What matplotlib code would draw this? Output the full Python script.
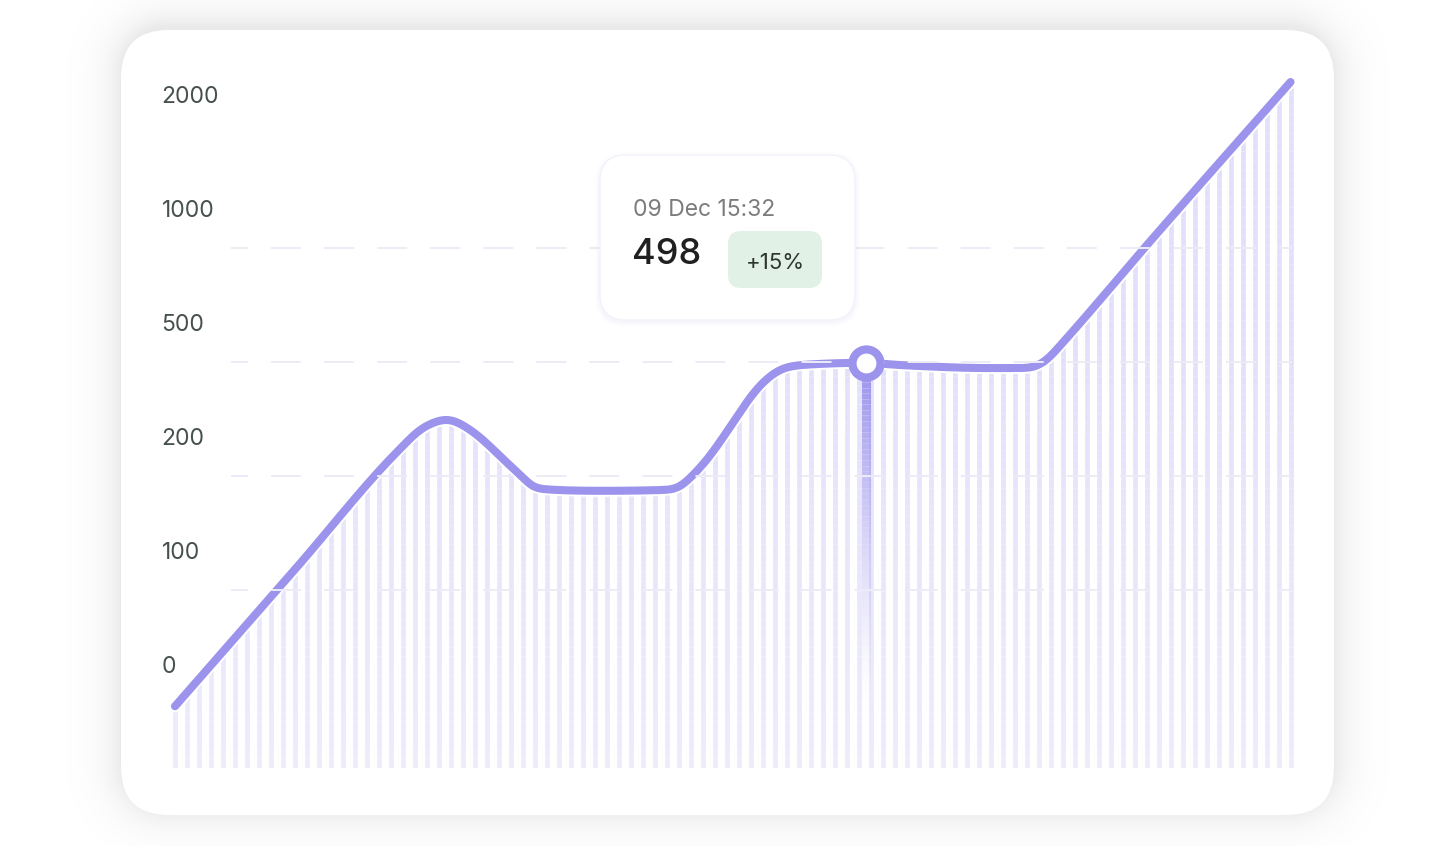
import numpy as np
import matplotlib
matplotlib.use('Agg')
import matplotlib.pyplot as plt
from matplotlib.patches import FancyBboxPatch
from matplotlib.collections import LineCollection

plt.rcParams['font.family'] = ['Inter', 'DejaVu Sans']
plt.rcParams['lines.scale_dashes'] = False

# ---------------- data ----------------
tick_values = [0, 100, 200, 500, 1000, 2000]
tick_labels = ['0', '100', '200', '500', '1000', '2000']
grid_values = [100, 200, 500, 1000]

series_x = [0, 10, 18.75, 20.8, 22.7, 24.6, 26.2, 27.1, 28.0, 28.75, 30, 35.4, 41.5, 43.75,
            46.5, 48.2, 49.3, 50.7, 52.1, 57.6, 60.4, 67.9, 71.25, 72.5, 73.75,
            81.25, 93]
series_y = [-2, 118, 271, 330, 350, 322, 280, 252, 225, 205, 189, 187, 188, 221,
            339, 418, 455, 484, 492, 498, 492, 484, 484, 500, 570,
            1053, 2456]
n_stripes = 94
marker_x = 57.6
marker_value = 498
tooltip_time = '09 Dec 15:32'
tooltip_value = '498'
tooltip_change = '+15%'

# ---------------- setup ----------------
W, H, DPI = 1455, 846, 100
PURPLE = '#9b93ec'

TV = np.array(tick_values, float)
POS = np.arange(len(TV), dtype=float)


def fwd(v):
    v = np.asarray(v, float)
    p = np.interp(v, TV, POS)
    p = np.where(v < TV[0], (v - TV[0]) / (TV[1] - TV[0]), p)
    p = np.where(v > TV[-1], POS[-1] + (v - TV[-1]) / (TV[-1] - TV[-2]), p)
    return p


def inv(p):
    p = np.asarray(p, float)
    v = np.interp(p, POS, TV)
    v = np.where(p < 0, p * (TV[1] - TV[0]), v)
    v = np.where(p > POS[-1], TV[-1] + (p - POS[-1]) * (TV[-1] - TV[-2]), v)
    return v


def pchip(x, y, xs):
    x = np.asarray(x, float); y = np.asarray(y, float); xs = np.asarray(xs, float)
    h = np.diff(x); d = np.diff(y) / h
    n = len(x)
    m = np.zeros(n)
    for i in range(1, n - 1):
        if d[i - 1] * d[i] <= 0:
            m[i] = 0
        else:
            w1 = 2 * h[i] + h[i - 1]; w2 = h[i] + 2 * h[i - 1]
            m[i] = (w1 + w2) / (w1 / d[i - 1] + w2 / d[i])
    m[0] = d[0]; m[-1] = d[-1]
    idx = np.clip(np.searchsorted(x, xs) - 1, 0, n - 2)
    t = (xs - x[idx]) / h[idx]
    h00 = 2 * t**3 - 3 * t**2 + 1
    h10 = t**3 - 2 * t**2 + t
    h01 = -2 * t**3 + 3 * t**2
    h11 = t**3 - t**2
    return h00 * y[idx] + h10 * h[idx] * m[idx] + h01 * y[idx + 1] + h11 * h[idx] * m[idx + 1]


fig = plt.figure(figsize=(W / DPI, H / DPI), dpi=DPI)
fig.patch.set_facecolor('white')

# background: card shadow + card
bg = fig.add_axes([0, 0, 1, 1], zorder=0)
yy, xx = np.mgrid[0:H, 0:W] + 0.5
x0c, x1c, y0c, y1c, rc = 121, 1334, 30, 815, 48
cx, cy = (x0c + x1c) / 2, (y0c + y1c) / 2
hx, hy = (x1c - x0c) / 2, (y1c - y0c) / 2
qx = np.abs(xx - cx) - (hx - rc)
qy = np.abs(yy - cy + 4) - (hy - rc)
dist = np.hypot(np.maximum(qx, 0), np.maximum(qy, 0)) + np.minimum(np.maximum(qx, qy), 0) - rc
alpha = np.where(dist > -10, 0.085 * np.exp(-np.maximum(dist, 0) / 18.0), 0)
img = np.zeros((H, W, 4)); img[..., 3] = alpha
bg.imshow(img, extent=(0, W, H, 0), interpolation='bilinear')
bg.add_patch(FancyBboxPatch((x0c, y0c), x1c - x0c, y1c - y0c,
                            boxstyle=f'round,pad=0,rounding_size={rc}',
                            fc='white', ec='none'))
bg.set_xlim(0, W); bg.set_ylim(H, 0); bg.axis('off')

# main chart axes
PX0, DX = 175.0, 11.995          # pixel of stripe 0 and spacing
Y0, DY = 704.0, 114.0            # pixel of value 0 and step per tick
ax_left_px, ax_right_px = PX0 - DX, PX0 + 94 * DX
ax_top_px, ax_bot_px = 30.0, 768.0
ax = fig.add_axes([ax_left_px / W, (H - ax_bot_px) / H,
                   (ax_right_px - ax_left_px) / W, (ax_bot_px - ax_top_px) / H], zorder=1)
ax.patch.set_alpha(0)
ax.set_yscale('function', functions=(fwd, inv))
p_bot = (Y0 - ax_bot_px) / DY
p_top = (Y0 - ax_top_px) / DY
ax.set_xlim(-1, 94)
ax.set_ylim(float(inv(p_bot)), float(inv(p_top)))
ax.axis('off')

# smooth curve in scaled space (monotone cubic, then light gaussian rounding)
sp = fwd(series_y)
xs = np.linspace(series_x[0], series_x[-1], 3721)
ys_p = pchip(series_x, sp, xs)
step = xs[1] - xs[0]
sig = 0.55 / step
half = int(4 * sig)
kern = np.exp(-0.5 * (np.arange(-half, half + 1) / sig) ** 2)
kern /= kern.sum()
# pad by linear extrapolation so the straight ends stay straight
sl0 = (ys_p[1] - ys_p[0]); sl1 = (ys_p[-1] - ys_p[-2])
padL = ys_p[0] - sl0 * np.arange(half, 0, -1)
padR = ys_p[-1] + sl1 * np.arange(1, half + 1)
ys_p_s = np.convolve(np.concatenate([padL, ys_p, padR]), kern, mode='valid')
ys = inv(ys_p_s)

# stripes with vertical fade
top_col = np.array(matplotlib.colors.to_rgb('#e2dffa'))
bot_col = np.array(matplotlib.colors.to_rgb('#edebfc'))
levels = np.linspace(p_bot, p_top, 80)
segs, cols = [], []
for k in range(n_stripes):
    ptop = float(np.interp(k, xs, ys_p_s))
    lv = levels[levels < ptop]
    lv = np.append(lv, ptop)
    for a, b in zip(lv[:-1], lv[1:]):
        segs.append([(k, float(inv(a))), (k, float(inv(b)))])
        t = ((a + b) / 2 - p_bot) / (p_top - p_bot)
        t = min(1.0, t / 0.6)
        cols.append(tuple(bot_col * (1 - t) + top_col * t))
ax.add_collection(LineCollection(segs, colors=cols, linewidths=3.4,
                                 capstyle='butt', zorder=1))

# marker vertical gradient line
pm = float(fwd(marker_value))
vl = np.linspace(pm - 0.12, (Y0 - 705) / DY, 60)
vsegs, vcols = [], []
c0 = np.array(matplotlib.colors.to_rgb(PURPLE))
for i, (a, b) in enumerate(zip(vl[:-1], vl[1:])):
    vsegs.append([(marker_x, float(inv(a))), (marker_x, float(inv(b)))])
    t = i / (len(vl) - 2)
    al = 0.95 * (1 - t) ** 1.3
    vcols.append((*c0, al))
ax.add_collection(LineCollection(vsegs, colors=vcols, linewidths=6.5,
                                 capstyle='butt', zorder=2))

# line with white halo
ax.plot(xs, ys, color='white', lw=8.6, solid_capstyle='round', zorder=3)
ax.plot(xs, ys, color=PURPLE, lw=5.8, solid_capstyle='round', zorder=4)

# gridlines (on top, very light)
gx0 = (231 - PX0) / DX
for gv in grid_values:
    ax.plot([gx0, 93.1], [gv, gv], color='#ecebf6', lw=1.4,
            linestyle=(9.4, (21.6, 16.6)), zorder=5, solid_capstyle='butt',
            dash_capstyle='butt')

# marker
ax.plot([marker_x], [marker_value], 'o', ms=20.2, mew=5.9, mfc='white',
        mec=PURPLE, zorder=6)

# y labels (drawn above their gridline)
for v, lab in zip(tick_values, tick_labels):
    ax.annotate(lab, xy=(161.5, v), xycoords=('figure pixels', 'data'),
                xytext=(0, 31), textcoords='offset pixels',
                ha='left', va='baseline', fontsize=16.5, color='#47514c',
                annotation_clip=False)

# overlay: tooltip
ov = fig.add_axes([0, 0, 1, 1], zorder=3)
ov.patch.set_alpha(0)
ov.set_xlim(0, W); ov.set_ylim(H, 0); ov.axis('off')
for grow, a in [(5, 0.025), (3, 0.035), (1.5, 0.05)]:
    ov.add_patch(FancyBboxPatch((600 - grow, 155 - grow + 2), 255 + 2 * grow, 165 + 2 * grow,
                                boxstyle=f'round,pad=0,rounding_size={26 + grow}',
                                fc='#b8b0ee', ec='none', alpha=a))
ov.add_patch(FancyBboxPatch((600, 155), 255, 165,
                            boxstyle='round,pad=0,rounding_size=26',
                            fc='white', ec='#f3f2fb', lw=1))
ov.add_patch(FancyBboxPatch((728, 231), 94, 57,
                            boxstyle='round,pad=0,rounding_size=13',
                            fc='#e2f1e5', ec='none'))
ov.text(633, 216, tooltip_time, fontsize=16.5, color='#7b7d7b', ha='left', va='baseline')
ov.text(632, 264, tooltip_value, fontsize=26, color='#1f201f', ha='left', va='baseline',
        fontweight='medium')
ov.text(775, 269, tooltip_change, fontsize=16, color='#2f3632', ha='center', va='baseline')

fig.savefig('out.png', dpi=DPI, facecolor='white')
